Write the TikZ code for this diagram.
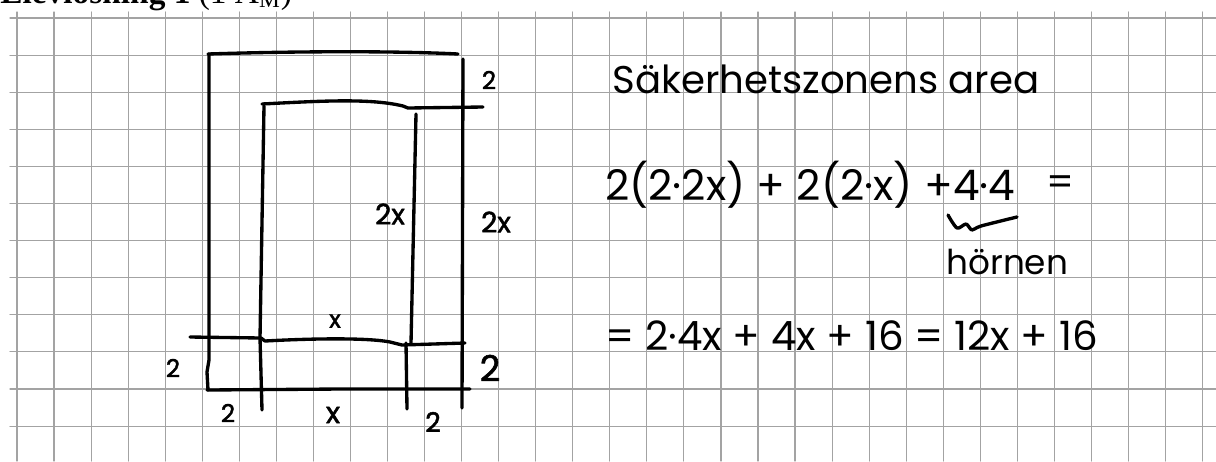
\documentclass[tikz,border=0pt]{standalone}
\usepackage{fontspec}
\setmainfont{Liberation Serif}
\newfontfamily\handfont{Poppins}
\newfontfamily\handfontfet{Poppins}[FakeBold=1.6]
\usetikzlibrary{calc}

\begin{document}
\begin{tikzpicture}[x=0.02cm, y=-0.02cm, line cap=round, line join=round,
    rutnat/.style={black!36, line width=0.65pt},
    penna/.style={line width=1.9pt},
    matt/.style={font=\handfontfet\fontsize{14}{14}\selectfont, inner sep=0pt},
    skrift/.style={font=\handfont\fontsize{22}{22}\selectfont, inner sep=0pt}]
    % Papper och rutnat
    \useasboundingbox (0,0) rectangle (1216,461);
    \clip (0,0) rectangle (1216,461);
    \fill[white] (0,0) rectangle (1216,461);
    \node[anchor=base west, inner sep=0pt, font=\fontsize{19}{19}\selectfont] (rubrik) at (0,3) {\textbf{Elevlösning 1} (1 A\textsubscript{M})};
    \foreach \i in {0,...,32}
        \draw[rutnat] ({17+37.05*\i},12) -- ({17+37.05*\i},461);
    \foreach \j in {0,...,11}
        \draw[rutnat] (10,{18+37.1*\j}) -- (1216,{18+37.1*\j});

    % Yttre rektangel
    \draw[penna] (208,54) .. controls (300,51) and (400,51) .. (458,54);
    \draw[penna] (209,54) -- (209,360) -- (207,372) -- (208,390);
    \draw[penna] (207,390) -- (340,389) -- (470,389);
    \draw[penna] (463,59) -- (462,408);

    % Inre rektangel
    \draw[penna] (262,104) .. controls (320,101) and (370,98) .. (403,106) -- (408,108) -- (483,107);
    \draw[penna] (264,106) -- (260,338) -- (262,410);
    \draw[penna] (416,114) -- (411,343);
    \draw[penna] (406,343) -- (407,409);
    \draw[penna] (190,337) -- (261,338) -- (265,341) .. controls (320,338) and (370,338) .. (390,342) -- (402,345) -- (465,343);

    % Matt
    \node[matt] (topp2) at (489,80) {2};
    \node[matt, scale=1.15] (inre2x) at (390,214) {2x};
    \node[matt, scale=1.15] (yttre2x) at (496,222) {2x};
    \node[matt] (mittx) at (335,321) {x};
    \node[matt] (vanster2) at (173,368) {2};
    \node[matt, scale=1.45] (hoger2) at (490,368) {2};
    \node[matt] (botten2v) at (228,413) {2};
    \node[matt, scale=1.2] (bottenx) at (333,415) {x};
    \node[matt, scale=1.1] (botten2h) at (433,422) {2};

    % Utrakning
    \node[skrift, anchor=base west] (rubrik2) at (612,93) {Säkerhetszonens area};
    \node[skrift, anchor=base west, font=\handfont\fontsize{24}{24}\selectfont] (rad1) at (605,200) {2(2·2x) + 2(2·x) +};
    \node[skrift, anchor=base, font=\handfont\fontsize{24}{24}\selectfont] (fyra) at (984,200) {4·4};
    \node[skrift] (lika) at (1060,186) {=};
    \draw[penna] plot[smooth] coordinates {(948,215) (957,228) (966,224) (972,230) (981,226) (1017,217)};
    \node[skrift, anchor=base west, font=\handfont\fontsize{19.5}{19.5}\selectfont] (hornen) at (946,274) {hörnen};
    \node[skrift, anchor=base west, font=\handfont\fontsize{23}{23}\selectfont] (rad3) at (605,350) {= 2·4x + 4x + 16 = 12x + 16};
\end{tikzpicture}
\end{document}
